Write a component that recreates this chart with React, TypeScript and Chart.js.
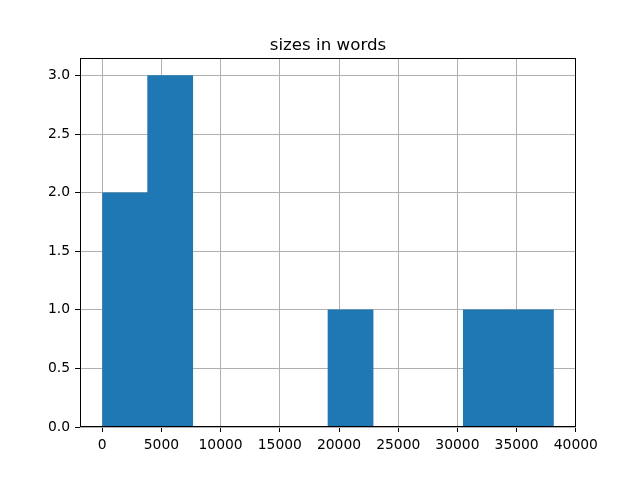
import React, { useEffect, useRef } from "react";
import { Chart, registerables } from "chart.js";

Chart.register(...registerables);

const chartTitle = "sizes in words";
const binEdges = [30, 3838, 7646, 11454, 15262, 19070, 22878, 26686, 30494, 34302, 38110];
const binCounts = [2, 3, 0, 0, 0, 1, 0, 0, 1, 1];
const xTickValues = [0, 5000, 10000, 15000, 20000, 25000, 30000, 35000, 40000];
const yTickValues = [0, 0.5, 1.0, 1.5, 2.0, 2.5, 3.0];

const FONT = "'DejaVu Sans', sans-serif";

export default function App() {
  const ref = useRef<HTMLCanvasElement | null>(null);

  useEffect(() => {
    const canvas = ref.current;
    if (!canvas) return;
    const lo = binEdges[0];
    const hi = binEdges[binEdges.length - 1];
    const span = hi - lo;
    const xMin = lo - span * 0.05;
    const xMax = hi + span * 0.05;
    const yMax = Math.max(...binCounts) * 1.05;

    const points = binCounts.map((c, i) => ({
      x: (binEdges[i] + binEdges[i + 1]) / 2,
      y: c,
    }));

    const framePlugin = {
      id: "frameAndTitle",
      afterDraw(chart: any) {
        const { ctx, chartArea } = chart;
        ctx.save();
        ctx.strokeStyle = "#000";
        ctx.lineWidth = 1;
        const l = Math.round(chartArea.left) + 0.5;
        const t = Math.round(chartArea.top) + 0.5;
        const r = Math.round(chartArea.right) - 0.5;
        const b = Math.round(chartArea.bottom) - 0.5;
        ctx.strokeRect(l, t, r - l, b - t);
        ctx.fillStyle = "#000";
        ctx.font = `16.67px ${FONT}`;
        ctx.textAlign = "center";
        ctx.textBaseline = "alphabetic";
        ctx.fillText(chartTitle, (chartArea.left + chartArea.right) / 2, chartArea.top - 8.3);
        ctx.restore();
      },
    };

    const chart = new Chart(canvas, {
      type: "bar",
      data: {
        datasets: [
          {
            data: points,
            backgroundColor: "#1f77b4",
            borderWidth: 0,
            barPercentage: 1,
            categoryPercentage: 1,
          },
        ],
      },
      options: {
        responsive: false,
        animation: false,
        layout: { padding: { top: 58, right: 64, bottom: 0, left: 0 } },
        plugins: {
          legend: { display: false },
          title: { display: false },
          tooltip: { enabled: false },
        },
        scales: {
          x: {
            type: "linear",
            min: xMin,
            max: xMax,
            offset: false,
            z: 1,
            afterBuildTicks: (scale: any) => {
              scale.ticks = xTickValues.map((v) => ({ value: v }));
            },
            afterFit: (scale: any) => {
              scale.height = 53;
            },
            grid: {
              offset: false,
              color: "#b0b0b0",
              lineWidth: 1,
              drawTicks: true,
              tickLength: 5,
              tickColor: "#000",
              tickWidth: 1,
            },
            border: { display: false },
            ticks: {
              color: "#000",
              padding: 5,
              maxRotation: 0,
              autoSkip: false,
              font: { family: FONT, size: 13.89 },
              callback: (v: any) => String(v),
            },
          },
          y: {
            type: "linear",
            min: 0,
            max: yMax,
            z: 1,
            afterBuildTicks: (scale: any) => {
              scale.ticks = yTickValues.map((v) => ({ value: v }));
            },
            afterFit: (scale: any) => {
              scale.width = 80;
            },
            grid: {
              color: "#b0b0b0",
              lineWidth: 1,
              drawTicks: true,
              tickLength: 5,
              tickColor: "#000",
              tickWidth: 1,
            },
            border: { display: false },
            ticks: {
              color: "#000",
              padding: 5,
              autoSkip: false,
              font: { family: FONT, size: 13.89 },
              callback: (v: any) => Number(v).toFixed(1),
            },
          },
        },
      },
      plugins: [framePlugin],
    });

    return () => chart.destroy();
  }, []);

  return (
    <div style={{ position: "fixed", left: 0, top: 0, width: 640, height: 480, background: "#fff" }}>
      <canvas ref={ref} width={640} height={480} />
    </div>
  );
}
